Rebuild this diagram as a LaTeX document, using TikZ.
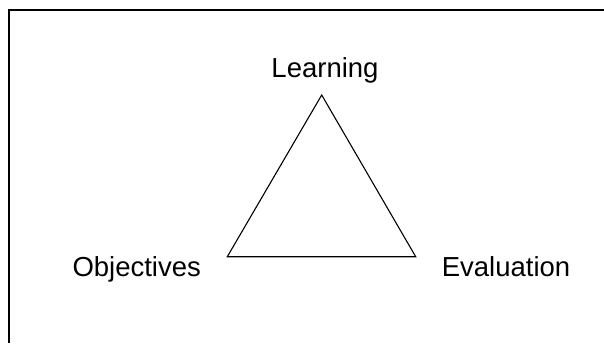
\documentclass[tikz,border=0pt]{standalone}
\usepackage{fontspec}
\setmainfont{Liberation Sans}
\begin{document}
\begin{tikzpicture}[x=1pt,y=1pt,
	corner/.style={anchor=base,inner sep=0pt,font=\fontsize{27.5}{33}\selectfont},
	side/.style={line width=1.1pt,line join=miter},
]
\useasboundingbox (0,0) rectangle (604,343);

%Frame
\draw[line width=2pt] (9,0) -- (9,333) -- (604,333);

%Labels
\node [corner]  (learning)at (325,265) {Learning};
\node [corner]  (objectives)at (136.7,66.5) {Objectives};
\node [corner]  (evaluation)at (506,66.5) {Evaluation};

%Triangle corners
\coordinate (ltop) at (321.7,248);
\coordinate (lleft) at (227.3,86.3);
\coordinate (lright) at (415.7,86.3);

\draw[side] (ltop) -- (lright) -- (lleft) -- cycle;

\end{tikzpicture}
\end{document}
